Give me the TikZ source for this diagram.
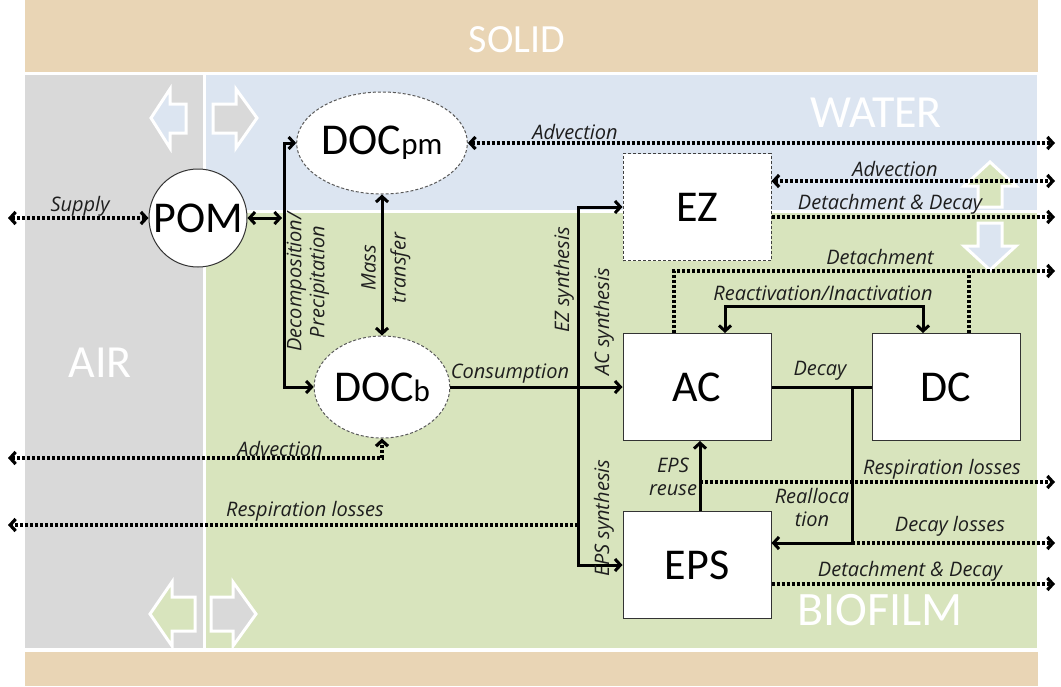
\documentclass[tikz,border=0pt]{standalone}
\usepackage{fontspec}
\setmainfont{Carlito}
\newfontfamily\lblfont{Open Sans}
\usetikzlibrary{arrows.meta,shapes.geometric,calc}
\definecolor{tanC}{HTML}{E9D5B5}
\definecolor{grayC}{HTML}{D9D9D9}
\definecolor{blueC}{HTML}{DCE5F1}
\definecolor{greenC}{HTML}{D8E4BD}
\definecolor{lblC}{HTML}{1E1E1E}
\begin{document}
\begin{tikzpicture}[x=1pt,y=-1pt,
  >={Straight Barb[length=5.5pt,width=12pt]},
  lbl/.style={font=\lblfont\itshape\fontsize{20}{23}\selectfont, text=lblC, inner sep=0pt},
  region/.style={font=\fontsize{46}{50}\selectfont, text=white, inner sep=0pt},
  sol/.style={line width=3pt, draw=black},
  dotl/.style={line width=3.2pt, dash pattern=on 3pt off 2pt, draw=black},
  box/.style={rectangle, draw=black!80, line width=1pt, fill=white, minimum width=148pt, minimum height=107pt, inner sep=0pt, font=\fontsize{44}{48}\selectfont},
  ell/.style={ellipse, draw=black!65, line width=1pt, dash pattern=on 3pt off 2pt, fill=white, minimum width=133pt, minimum height=102pt, inner sep=0pt, font=\fontsize{44}{48}\selectfont},
  blk/.style={draw=white, line width=3pt, line join=miter}
]
\useasboundingbox (0,0) rectangle (1061,686);
\fill[white] (0,0) rectangle (1061,686);
% regions
\fill[tanC] (25,0) rectangle (1038,72);
\fill[grayC] (25,75) rectangle (203,648);
\fill[blueC] (206,75) rectangle (1037,210);
\fill[greenC] (206,213) rectangle (1037,648);
\fill[tanC] (25,652) rectangle (1038,686);
\node[region, font=\fontsize{40}{44}\selectfont] (solid) at (517,40) {SOLID};
\node[region] (water) at (876,113) {WATER};
\node[region] (air) at (100,363) {AIR};
\node[region, font=\fontsize{48}{52}\selectfont] (biofilm) at (880,610) {BIOFILM};
% block arrows
\filldraw[blk, fill=blueC] (151,118) -- (170,89) -- (170,104) -- (186,104) -- (186,133) -- (170,133) -- (170,148) -- cycle;
\filldraw[blk, fill=grayC] (257,118) -- (236,89) -- (236,104) -- (213,104) -- (213,133) -- (236,133) -- (236,148) -- cycle;
\filldraw[blk, fill=greenC] (150,614) -- (172,582) -- (172,597) -- (195,597) -- (195,631) -- (172,631) -- (172,646) -- cycle;
\filldraw[blk, fill=grayC] (256,614) -- (233,582) -- (233,597) -- (211,597) -- (211,631) -- (233,631) -- (233,646) -- cycle;
\filldraw[blk, fill=greenC] (990,162) -- (1016,186) -- (1002,186) -- (1002,207) -- (978,207) -- (978,186) -- (964,186) -- cycle;
\filldraw[blk, fill=blueC] (990,270) -- (1016,246) -- (1002,246) -- (1002,223) -- (978,223) -- (978,246) -- (964,246) -- cycle;
% nodes
\node[circle, draw=black!80, line width=1pt, fill=white, minimum size=98pt, inner sep=0pt, font=\fontsize{44}{48}\selectfont] (POM) at (198,218) {POM};
\node[ell] (DOCpm) at (382,143) {DOC{\fontsize{31}{34}\selectfont pm}};
\node[ell] (DOCb) at (382,387) {DOC{\fontsize{31}{34}\selectfont b}};
\node[box, dash pattern=on 3pt off 2pt, draw=black!75] (EZ) at (697,207) {EZ};
\node[box] (AC) at (697,387) {AC};
\node[box] (DC) at (946,387) {DC};
\node[box] (EPS) at (697,565) {EPS};
% coordinates
\coordinate (supL) at (8,218);
\coordinate (decx) at (284,218);
\coordinate (advTopR) at (1055,143);
\coordinate (advEZ) at (1055,181);
\coordinate (ddEZ) at (1055,217);
\coordinate (detL) at (674,271);
\coordinate (detR) at (969,271);
\coordinate (detE) at (1055,271);
\coordinate (reL) at (725,306);
\coordinate (reR) at (923,306);
\coordinate (jn) at (852,387);
\coordinate (realloc) at (852,543);
\coordinate (dlE) at (1055,543);
\coordinate (reuse) at (700,482);
\coordinate (respE) at (1055,482);
\coordinate (ddEPS) at (1055,584);
\coordinate (synx) at (578,387);
\coordinate (advL) at (8,458);
\coordinate (respL) at (8,525);
% connectors
\draw[dotl,<->] (supL) -- (POM.west);
\draw[sol,<->] (POM.east) -- ([xshift=-2pt]POM.east -| decx);
\draw[sol,<->] (DOCpm.west) -- (DOCpm.west -| decx) -- (DOCb.west -| decx) -- (DOCb.west);
\draw[sol,<->] (DOCpm.south) -- (DOCb.north);
\draw[dotl,<->] (DOCpm.east) -- (advTopR);
\draw[dotl,<->] (EZ.east |- advEZ) -- (advEZ);
\draw[dotl,->] (EZ.east |- ddEZ) -- (ddEZ);
\draw[dotl,->] (AC.north -| detL) -- (detL) -- (detE);
\draw[dotl] (DC.north -| detR) -- (detR);
\draw[sol,<->] (AC.north -| reL) -- (reL) -- (reR) -- (DC.north -| reR);
\draw[sol] (AC.east) -- (DC.west);
\draw[sol,->] (jn) -- (realloc) -- (EPS.east |- realloc);
\draw[dotl,->] (realloc) -- (dlE);
\draw[sol,->] (EPS.north -| reuse) -- (AC.south -| reuse);
\draw[dotl,->] (reuse) -- (respE);
\draw[dotl,->] (EPS.east |- ddEPS) -- (ddEPS);
\draw[sol,<->] (EZ.west) -- (EZ.west -| synx) -- (EPS.west -| synx) -- (EPS.west);
\draw[sol,->] (DOCb.east) -- (AC.west);
\draw[dotl,<->] (advL) -- (DOCb.south |- advL) -- (DOCb.south);
\draw[dotl,->] (respL -| synx) -- (respL);
% labels
\node[lbl] (l1) at (80,206) {Supply};
\node[lbl] (l2) at (575,132) {Advection};
\node[lbl] (l3) at (895,169) {Advection};
\node[lbl] (l4) at (890,204) {Detachment \& Decay};
\node[lbl] (l5) at (880,257) {Detachment};
\node[lbl] (l6) at (823,293) {Reactivation/Inactivation};
\node[lbl] (l7) at (820,371) {Decay};
\node[lbl] (l8) at (510,374) {Consumption};
\node[lbl] (l9) at (942,469) {Respiration losses};
\node[lbl, align=center, font=\lblfont\itshape\fontsize{20}{23}\selectfont] (l10) at (673,477) {EPS\\reuse};
\node[lbl, align=center, font=\lblfont\itshape\fontsize{20}{23}\selectfont] (l11) at (812,507) {Realloca\\tion};
\node[lbl] (l12) at (950,526) {Decay losses};
\node[lbl] (l13) at (910,571) {Detachment \& Decay};
\node[lbl] (l14) at (280,449) {Advection};
\node[lbl] (l15) at (305,511) {Respiration losses};
\node[lbl, rotate=90, align=center, font=\lblfont\itshape\fontsize{20}{23}\selectfont] (l16) at (308,282) {Decomposition/\\Precipitation};
\node[lbl, rotate=90, align=center, font=\lblfont\itshape\fontsize{20}{30}\selectfont] (l17) at (386,268) {Mass\\transfer};
\node[lbl, rotate=90] (l18) at (564,280) {EZ synthesis};
\node[lbl, rotate=90] (l19) at (604,322) {AC synthesis};
\node[lbl, rotate=90] (l20) at (604,518) {EPS synthesis};
\end{tikzpicture}
\end{document}
